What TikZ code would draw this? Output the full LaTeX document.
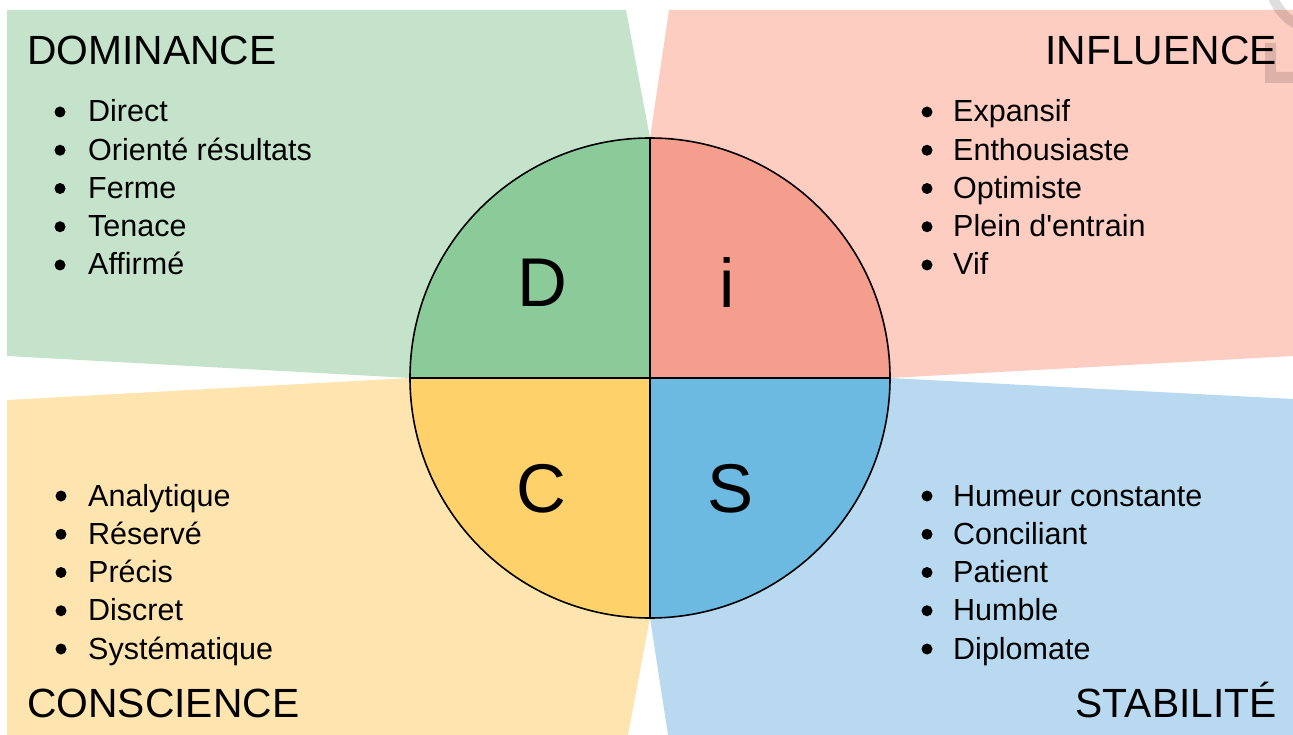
\documentclass[tikz,border=0pt]{standalone}
\usepackage{fontspec}
\setmainfont{Liberation Sans}
\newfontfamily\discfont{Liberation Sans}
\usepackage{tikz}
\usetikzlibrary{calc}
\definecolor{dombg}{RGB}{197,227,203}
\definecolor{domfill}{RGB}{139,203,154}
\definecolor{inflbg}{RGB}{253,205,193}
\definecolor{inflfill}{RGB}{245,158,142}
\definecolor{consbg}{RGB}{254,228,174}
\definecolor{consfill}{RGB}{254,209,106}
\definecolor{stabbg}{RGB}{184,217,239}
\definecolor{stabfill}{RGB}{108,186,226}
\newcommand{\sizetitle}{\discfont\fontsize{40.8}{44}\selectfont}
\newcommand{\sizeitem}{\discfont\fontsize{30.5}{34}\selectfont}
\newcommand{\sizeletter}{\discfont\fontsize{69}{80}\selectfont}
\newcommand{\itemskip}{38.25}
\tikzset{
    title/.style={inner sep=0pt, font=\sizetitle},
    titlewest/.style={title, anchor=base west},
    titleeast/.style={title, anchor=base east},
    item/.style={inner sep=0pt, anchor=base west, font=\sizeitem},
    dot/.style={circle, fill=black, inner sep=0pt, minimum size=11pt},
    letter/.style={inner sep=0pt, font=\sizeletter},
    quarter/.style={draw=black, line width=1.1pt},
    watermark/.style={black, opacity=0.13}
}
\begin{document}
\begin{tikzpicture}[x=1pt, y=-1pt]
    \useasboundingbox (0,0) rectangle (1293,735);

    % background sectors
    \fill[dombg]  (7,10) -- (626,10) -- (650,138) -- (650,378) -- (410,378) -- (7,356) -- cycle;
    \fill[inflbg] (669,10) -- (1293,10) -- (1293,356) -- (890,378) -- (650,378) -- (650,138) -- cycle;
    \fill[consbg] (7,400) -- (410,378) -- (650,378) -- (650,618) -- (628,735) -- (7,735) -- cycle;
    \fill[stabbg] (1293,399) -- (890,378) -- (650,378) -- (650,618) -- (668,735) -- (1293,735) -- cycle;

    % faint mark in the corner
    \draw[watermark, line width=10pt] (1320,-20) ++(160:50) arc[start angle=160, end angle=100, radius=50];
    \fill[watermark] (1265,43) rectangle (1276,83) (1276,72) rectangle (1293,83);

    % the wheel
    \coordinate (O) at (650,378);
    \fill[domfill]  (O) -- (410,378) arc[start angle=180, end angle=270, radius=240] -- cycle;
    \fill[inflfill] (O) -- (650,138) arc[start angle=-90, end angle=0, radius=240] -- cycle;
    \fill[stabfill] (O) -- (890,378) arc[start angle=0, end angle=90, radius=240] -- cycle;
    \fill[consfill] (O) -- (650,618) arc[start angle=90, end angle=180, radius=240] -- cycle;
    \draw[quarter] (410,378) -- (890,378) (650,138) -- (650,618);
    \draw[black, line width=1.6pt] (O) circle[radius=240];

    \node[letter] (D) at (542,283) {D};
    \node[letter] (I) at (727,283) {i};
    \node[letter] (C) at (541.5,489) {C};
    \node[letter] (S) at (731,489) {S};

    % titles
    \node[titlewest] (dom)  at (27,65)   {DOMINANCE};
    \node[titleeast] (infl) at (1277,65) {INFLUENCE};
    \node[titlewest] (cons) at (27,717)  {CONSCIENCE};
    \node[titleeast] (stab) at (1277,717) {STABILITÉ};

    % lists
    \foreach \txt [count=\k] in {Direct, Orienté résultats, Ferme, Tenace, Affirmé} {
        \node[item] (dom\k) at (88,{122+(\k-1)*\itemskip}) {\txt};
        \node[dot] (domdot\k) at (60,{112+(\k-1)*\itemskip}) {};
    }
    \foreach \txt [count=\k] in {Expansif, Enthousiaste, Optimiste, Plein d'entrain, Vif} {
        \node[item] (infl\k) at (953,{122+(\k-1)*\itemskip}) {\txt};
        \node[dot] (infldot\k) at (927,{112+(\k-1)*\itemskip}) {};
    }
    \foreach \txt [count=\k] in {Analytique, Réservé, Précis, Discret, Systématique} {
        \node[item] (cons\k) at (88,{506+(\k-1)*\itemskip}) {\txt};
        \node[dot] (consdot\k) at (61,{496+(\k-1)*\itemskip}) {};
    }
    \foreach \txt [count=\k] in {Humeur constante, Conciliant, Patient, Humble, Diplomate} {
        \node[item] (stab\k) at (953,{506+(\k-1)*\itemskip}) {\txt};
        \node[dot] (stabdot\k) at (927,{496+(\k-1)*\itemskip}) {};
    }
\end{tikzpicture}
\end{document}
